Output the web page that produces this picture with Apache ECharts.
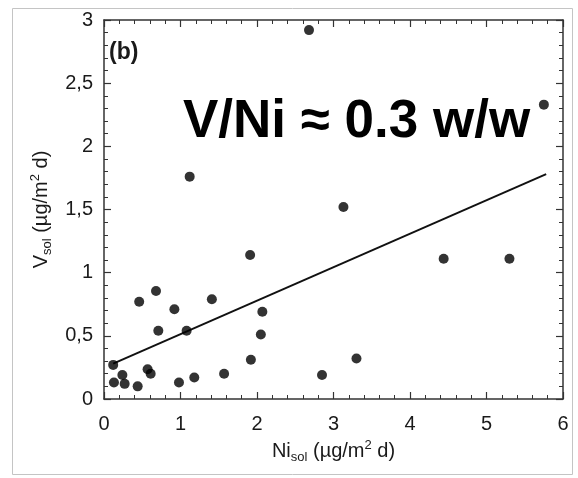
<!DOCTYPE html>
<html>
<head>
<meta charset="utf-8">
<script src="https://cdn.jsdelivr.net/npm/echarts@6/dist/echarts.min.js"></script>
<style>
  html, body { margin: 0; padding: 0; background: #fff; }
  #chart { width: 578px; height: 478px; }
</style>
</head>
<body>
<div id="chart"></div>
<script>
// Soluble nickel vs soluble vanadium deposition fluxes (µg/m² d)
const niSol = [2.68, 5.75, 1.12, 3.13, 1.91, 4.44, 5.30, 0.68, 0.46, 1.41, 0.92, 2.07, 0.71, 1.08,
               2.05, 1.92, 3.30, 0.12, 0.57, 0.61, 0.24, 2.85, 1.57, 1.18, 0.13, 0.27, 0.98, 0.44];
const vSol  = [2.92, 2.33, 1.76, 1.52, 1.14, 1.11, 1.11, 0.855, 0.77, 0.79, 0.71, 0.69, 0.54, 0.54,
               0.51, 0.31, 0.32, 0.27, 0.235, 0.20, 0.19, 0.19, 0.20, 0.17, 0.13, 0.12, 0.13, 0.10];

// Least-squares line end points
const fitX = [0.12, 5.78];
const fitY = [0.28, 1.78];

const xTicks = [0, 1, 2, 3, 4, 5, 6];
const yTicks = [0, 0.5, 1, 1.5, 2, 2.5, 3];

const points = niSol.map((x, i) => [x, vSol[i]]);
const fitLine = fitX.map((x, i) => [x, fitY[i]]);

const fontFamily = '"Liberation Sans", Arial, sans-serif';
const ink = '#1a1a1a';
const frame = '#333333';

// Boxed frame: every side carries inward major and minor ticks
function ticks() {
  return {
    axisLine: { show: true, onZero: false, lineStyle: { color: frame, width: 1.5 } },
    axisTick: { show: true, inside: true, length: 7, lineStyle: { color: frame, width: 1.2 } },
    minorTick: { show: true, splitNumber: 5, length: 4, lineStyle: { color: frame, width: 1 } },
    splitLine: { show: false },
    minorSplitLine: { show: false }
  };
}

const richName = {
  t: { fontSize: 20, color: ink, fontFamily },
  sub: { fontSize: 13, color: ink, fontFamily, verticalAlign: 'bottom', padding: [12, 0, 0, 0] },
  sup: { fontSize: 13, color: ink, fontFamily, verticalAlign: 'top', padding: [0, 0, 8, 0] }
};

const chart = echarts.init(document.getElementById('chart'));

chart.setOption({
  animation: false,
  backgroundColor: '#fff',
  grid: { left: 104, right: 15, top: 20, bottom: 79 },
  xAxis: [
    Object.assign({
      type: 'value', position: 'bottom', min: xTicks[0], max: xTicks[xTicks.length - 1], interval: 1,
      axisLabel: {
        margin: 15, color: ink, fontSize: 20, fontFamily,
        formatter: v => xTicks.includes(v) ? String(v) : ''
      },
      name: '{t|Ni}{sub|sol}{t| (µg/m}{sup|2}{t| d)}',
      nameLocation: 'middle', nameGap: 35,
      nameTextStyle: { rich: richName }
    }, ticks()),
    Object.assign({
      type: 'value', position: 'top', min: xTicks[0], max: xTicks[xTicks.length - 1], interval: 1,
      axisLabel: { show: false }
    }, ticks())
  ],
  yAxis: [
    Object.assign({
      type: 'value', position: 'left', min: yTicks[0], max: yTicks[yTicks.length - 1], interval: 0.5,
      axisLabel: {
        margin: 11, color: ink, fontSize: 20, fontFamily,
        formatter: v => String(v).replace('.', ',')
      },
      name: '{t|V}{sub|sol}{t| (µg/m}{sup|2}{t| d)}',
      nameLocation: 'middle', nameGap: 49, nameRotate: 90,
      nameTextStyle: { rich: richName }
    }, ticks()),
    Object.assign({
      type: 'value', position: 'right', min: yTicks[0], max: yTicks[yTicks.length - 1], interval: 0.5,
      axisLabel: { show: false }
    }, ticks())
  ],
  series: [
    {
      type: 'line', data: fitLine, xAxisIndex: 0, yAxisIndex: 0,
      showSymbol: false, symbol: 'none',
      lineStyle: { color: '#111', width: 2 }, z: 2
    },
    {
      type: 'scatter', data: points, xAxisIndex: 0, yAxisIndex: 0,
      symbol: 'circle', symbolSize: 10,
      itemStyle: { color: '#000' }, z: 3
    }
  ],
  graphic: [
    {
      type: 'rect', silent: true, z: -1,
      shape: { x: 12.5, y: 8.5, width: 560, height: 466 },
      style: { fill: 'none', stroke: '#c4c4c4', lineWidth: 1 }
    },
    {
      type: 'text', left: 109, top: 41,
      style: { text: '(b)', font: 'bold 23px ' + fontFamily, fill: ink }
    },
    {
      type: 'text', x: 183, y: 122,
      style: { text: 'V/Ni ≈ 0.3 w/w', font: 'bold 53px ' + fontFamily, fill: '#000',
               verticalAlign: 'middle', align: 'left' }
    }
  ]
});
</script>
</body>
</html>
